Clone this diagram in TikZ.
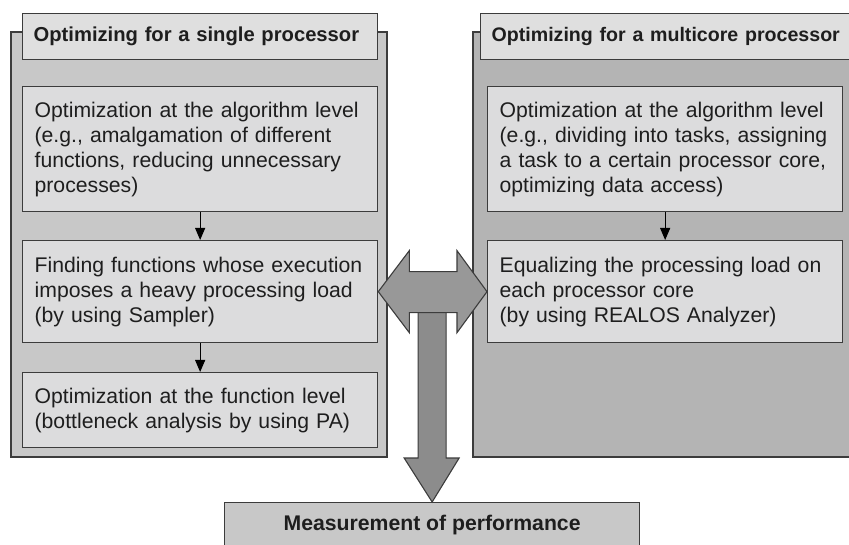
\documentclass[tikz,border=0pt]{standalone}
\usepackage{fontspec}
\setmainfont{Liberation Sans}
\usetikzlibrary{arrows.meta,calc}

\definecolor{edgecol}{HTML}{3C3C3C}
\definecolor{panelsingle}{HTML}{C8C8C8}
\definecolor{panelmulti}{HTML}{B4B4B4}
\definecolor{boxfill}{HTML}{DCDCDD}
\definecolor{titlefill}{HTML}{DFDFDF}
\definecolor{measfill}{HTML}{C8C8C8}
\definecolor{bigarrowv}{HTML}{8C8C8C}
\definecolor{bigarrowh}{HTML}{989898}
\definecolor{inkcol}{HTML}{1E1E1E}

\begin{document}
\begin{tikzpicture}[x=1pt,y=-1pt,
  panel/.style={draw=edgecol,line width=1.3pt},
  titlebox/.style={draw=edgecol,line width=1.3pt,fill=titlefill,anchor=north west,
    inner xsep=11pt,inner ysep=0pt,minimum height=46pt,align=left,text=inkcol,
    font=\fontsize{20.2}{24}\selectfont\bfseries},
  stepbox/.style={draw=edgecol,line width=1.3pt,fill=boxfill,anchor=north west,
    inner xsep=12pt,inner ysep=0pt,text width=331pt,align=left,text=inkcol,
    font=\fontsize{21.2}{25}\selectfont},
  flow/.style={draw=black,line width=1pt,-{Triangle[length=12pt,width=10pt]}},
  bigarrow/.style={draw=edgecol,line width=1.1pt,line join=miter}
]
\useasboundingbox (0,0) rectangle (849,545);
\clip (0,0) rectangle (849,545);

% background panels
\draw[panel,fill=panelsingle] (11,32) rectangle (387,457);
\draw[panel,fill=panelmulti] (473,32) rectangle (862,457);

% panel titles
\node[titlebox,text width=333pt] (tleft) at (22,13)
  {\makebox[333pt][l]{Optimizing for a single processor}};
\node[titlebox,text width=347pt] (tright) at (480,13)
  {\makebox[347pt][l]{\fontsize{19.6}{24}\selectfont Optimizing for a multicore processor}};

% single processor steps
\node[stepbox,minimum height=125pt] (algL) at (22,86)
  {Optimization at the algorithm level\\(e.g., amalgamation of different\\functions, reducing unnecessary\\processes)};
\node[stepbox,minimum height=102pt] (hot) at (22,240)
  {Finding functions whose execution\\imposes a heavy processing load\\(by using Sampler)};
\node[stepbox,minimum height=75pt] (func) at (22,372)
  {Optimization at the function level\\(bottleneck analysis by using PA)};

% multicore steps
\node[stepbox,minimum height=125pt] (algR) at (487,86)
  {Optimization at the algorithm level\\(e.g., dividing into tasks, assigning\\a task to a certain processor core,\\optimizing data access)};
\node[stepbox,minimum height=102pt] (load) at (487,240)
  {Equalizing the processing load on\\each processor core\\(by using REALOS Analyzer)};

% flow arrows inside the panels
\draw[flow] (algL.south) -- (hot.north);
\draw[flow] (hot.south) -- (func.north);
\draw[flow] (algR.south) -- (load.north);

% result box
\node[draw=edgecol,line width=1.3pt,fill=measfill,anchor=north west,
  minimum width=415pt,minimum height=60pt,inner sep=0pt] (meas) at (224,502) {};
\node[text=inkcol,font=\fontsize{21.2}{25}\selectfont\bfseries] (meastext)
  at ($(meas.north)+(0,23)$) {Measurement of performance};

% downward block arrow to the measurement
\coordinate (vtip) at (meas.north);
\draw[bigarrow,fill=bigarrowv]
  ($(vtip)+(-14,-211)$) -- ($(vtip)+(14,-211)$) -- ($(vtip)+(14,-44)$) --
  ($(vtip)+(27,-44)$) -- (vtip) -- ($(vtip)+(-28,-44)$) --
  ($(vtip)+(-14,-44)$) -- cycle;

% two-way block arrow between the panels
\coordinate (hl) at (hot.east);
\coordinate (hr) at (load.west);
\draw[bigarrow,fill=bigarrowh]
  (hl) -- ($(hl)+(31,-41)$) -- ($(hl)+(31,-20)$) -- ($(hr)+(-30,-20)$) --
  ($(hr)+(-30,-41)$) -- (hr) -- ($(hr)+(-30,41)$) -- ($(hr)+(-30,21)$) --
  ($(hl)+(31,21)$) -- ($(hl)+(31,41)$) -- cycle;
\end{tikzpicture}
\end{document}
